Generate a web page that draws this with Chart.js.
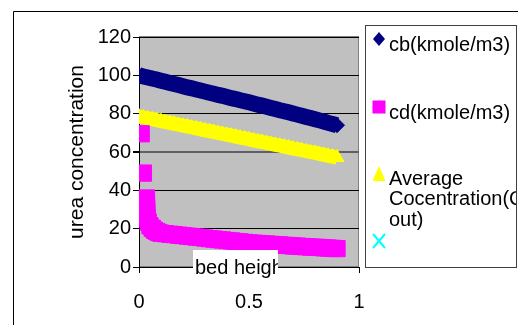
<!DOCTYPE html>
<html>
<head>
<meta charset="utf-8">
<script src="https://cdn.jsdelivr.net/npm/chart.js@4.4.0/dist/chart.umd.min.js"></script>
<style>
  body { margin: 0; background: #fff; }
  canvas { display: block; }
</style>
</head>
<body>
<canvas id="chart" width="518" height="325"></canvas>
<script>
// bed height values shared by cb and the average series
const bedHeight = [0, 0.02, 0.04, 0.06, 0.08, 0.1, 0.12, 0.14, 0.16, 0.18, 0.2,
  0.22, 0.24, 0.26, 0.28, 0.3, 0.32, 0.34, 0.36, 0.38, 0.4,
  0.42, 0.44, 0.46, 0.48, 0.5, 0.52, 0.54, 0.56, 0.58, 0.6,
  0.62, 0.64, 0.66, 0.68, 0.7, 0.72, 0.74, 0.76, 0.78, 0.8,
  0.82, 0.84, 0.86, 0.88, 0.9];

const cb = [100, 99.4, 98.9, 98.3, 97.8, 97.2, 96.6, 96.0, 95.5, 94.9, 94.3,
  93.7, 93.2, 92.6, 92.1, 91.5, 90.9, 90.4, 89.8, 89.3, 88.7,
  88.1, 87.6, 87.0, 86.5, 85.9, 85.3, 84.7, 84.2, 83.6, 83.0,
  82.4, 81.8, 81.3, 80.7, 80.1, 79.5, 78.9, 78.3, 77.7, 77.1,
  76.5, 75.9, 75.2, 74.6, 74.0];

const average = [78.5, 78.0, 77.5, 77.1, 76.6, 76.1, 75.6, 75.2, 74.7, 74.2, 73.7,
  73.3, 72.8, 72.3, 71.8, 71.3, 70.9, 70.4, 69.9, 69.4, 69.0,
  68.5, 68.0, 67.5, 67.1, 66.6, 66.1, 65.6, 65.2, 64.7, 64.2,
  63.7, 63.3, 62.8, 62.3, 61.8, 61.4, 60.9, 60.4, 59.9, 59.5,
  59.0, 58.5, 58.0, 57.6, 57.1];

// cd has its own x values (denser near the start)
const cdHeight = [0.01, 0.02, 0.034, 0.034, 0.035, 0.036, 0.038, 0.042, 0.05, 0.06, 0.07, 0.08, 0.09, 0.1,
  0.12, 0.14, 0.16, 0.18, 0.2, 0.22, 0.24, 0.26, 0.28, 0.3,
  0.32, 0.34, 0.36, 0.38, 0.4, 0.42, 0.44, 0.46, 0.48, 0.5,
  0.52, 0.54, 0.56, 0.58, 0.6, 0.62, 0.64, 0.66, 0.68, 0.7,
  0.72, 0.74, 0.76, 0.78, 0.8, 0.82, 0.84, 0.86, 0.88, 0.9];

const cd = [69.5, 49, 36, 33, 30.5, 28, 25.5, 23.5, 21.5, 20.2, 19.2, 18.5, 18.0, 17.6,
  17.4, 17.1, 16.9, 16.6, 16.4, 16.1, 15.9, 15.6, 15.4, 15.1,
  14.8, 14.6, 14.3, 14.1, 13.8, 13.6, 13.3, 13.1, 12.8, 12.6,
  12.4, 12.3, 12.1, 12.0, 11.8, 11.6, 11.5, 11.3, 11.2, 11.0,
  10.9, 10.7, 10.6, 10.4, 10.3, 10.2, 10.0, 9.9, 9.7, 9.6];

const yTicks = [0, 20, 40, 60, 80, 100, 120];
const xTicks = [0, 0.5, 1];

const legendNames = ['cb(kmole/m3)', 'cd(kmole/m3)', ['Average', 'Cocentration(C', 'out)'], ''];

const NAVY = '#000080';
const MAGENTA = '#ff00ff';
const YELLOW = '#ffff00';
const CYAN = '#00ffff';
const FONT = "'Liberation Sans', Arial, sans-serif";

function toPoints(xs, ys) {
  return xs.map((x, i) => ({ x: x, y: ys[i] }));
}

// grey plot area + outer frame
const backdrop = {
  id: 'backdrop',
  beforeDraw(chart) {
    const { ctx, chartArea: a } = chart;
    ctx.save();
    ctx.fillStyle = '#fff';
    ctx.fillRect(0, 0, chart.width, chart.height);
    ctx.strokeStyle = '#000';
    ctx.lineWidth = 1;
    ctx.beginPath();
    ctx.moveTo(13.5, 325);
    ctx.lineTo(13.5, 11.5);
    ctx.lineTo(518, 11.5);
    ctx.stroke();
    ctx.fillStyle = '#c0c0c0';
    ctx.fillRect(a.left, a.top, a.right - a.left, a.bottom - a.top);
    ctx.strokeStyle = '#808080';
    ctx.strokeRect(a.left + 0.5, a.top - 0.5, a.right - a.left - 1, a.bottom - a.top);
    ctx.restore();
  }
};

function marker(ctx, style, x, y, color) {
  ctx.fillStyle = color;
  ctx.strokeStyle = color;
  ctx.beginPath();
  if (style === 'rectRot') {
    ctx.moveTo(x, y - 7); ctx.lineTo(x + 6, y); ctx.lineTo(x, y + 7); ctx.lineTo(x - 6, y);
    ctx.closePath(); ctx.fill();
  } else if (style === 'rect') {
    ctx.fillRect(x - 6.5, y - 6.5, 13, 13);
  } else if (style === 'triangle') {
    ctx.moveTo(x, y - 8); ctx.lineTo(x + 6.5, y + 7); ctx.lineTo(x - 6.5, y + 7);
    ctx.closePath(); ctx.fill();
  } else {
    ctx.lineWidth = 2;
    ctx.moveTo(x - 6, y - 7); ctx.lineTo(x + 6, y + 7);
    ctx.moveTo(x + 6, y - 7); ctx.lineTo(x - 6, y + 7);
    ctx.stroke();
  }
}

// legend box and the "bed heigh" label
const overlay = {
  id: 'overlay',
  afterDraw(chart) {
    const ctx = chart.ctx;
    ctx.save();
    // x axis title box
    ctx.fillStyle = '#fff';
    ctx.fillRect(193, 250, 85, 29);
    ctx.beginPath();
    ctx.rect(193, 250, 85, 29);
    ctx.clip();
    ctx.fillStyle = '#000';
    ctx.font = '20px ' + FONT;
    ctx.textBaseline = 'alphabetic';
    ctx.fillText('bed height', 195, 274);
    ctx.restore();

    ctx.save();
    ctx.strokeStyle = '#404040';
    ctx.lineWidth = 1;
    ctx.strokeRect(365.5, 25.5, 151, 242);
    ctx.beginPath();
    ctx.rect(366, 26, 150, 241);
    ctx.clip();
    const markY = [39, 107, 174, 241];
    const textY = [[51], [119], [185, 205, 226], []];
    chart.data.datasets.forEach((ds, i) => {
      marker(ctx, ds.pointStyle, 379, markY[i], ds.backgroundColor);
      const lines = Array.isArray(legendNames[i]) ? legendNames[i] : [legendNames[i]];
      ctx.fillStyle = '#000';
      ctx.font = '20px ' + FONT;
      ctx.textBaseline = 'alphabetic';
      lines.forEach((t, j) => {
        if (textY[i][j] !== undefined) ctx.fillText(t, 389, textY[i][j]);
      });
    });
    ctx.restore();
  }
};

new Chart(document.getElementById('chart'), {
  type: 'scatter',
  data: {
    datasets: [
      {
        label: 'cb(kmole/m3)',
        data: toPoints(bedHeight, cb),
        pointStyle: 'rectRot',
        pointRadius: 7.5,
        showLine: true,
        borderWidth: 16,
        pointBorderWidth: 1,
        backgroundColor: NAVY,
        borderColor: NAVY
      },
      {
        label: 'cd(kmole/m3)',
        data: toPoints(cdHeight, cd),
        pointStyle: 'rect',
        pointRadius: 11.5,
        backgroundColor: MAGENTA,
        borderColor: MAGENTA,
        borderWidth: 1
      },
      {
        label: 'Average Cocentration(C out)',
        data: toPoints(bedHeight, average),
        pointStyle: 'triangle',
        pointRadius: 8,
        showLine: true,
        borderWidth: 14,
        pointBorderWidth: 1,
        backgroundColor: YELLOW,
        borderColor: YELLOW
      },
      {
        label: '',
        data: [],
        pointStyle: 'crossRot',
        pointRadius: 7,
        backgroundColor: CYAN,
        borderColor: CYAN,
        borderWidth: 2
      }
    ]
  },
  options: {
    responsive: false,
    animation: false,
    events: [],
    layout: { padding: { left: 0, top: 37, right: 159, bottom: 0 } },
    plugins: {
      legend: { display: false },
      tooltip: { enabled: false }
    },
    scales: {
      x: {
        type: 'linear',
        min: 0,
        max: 1,
        afterFit(scale) { scale.height = 58; },
        afterBuildTicks(scale) { scale.ticks = xTicks.map(v => ({ value: v })); },
        ticks: {
          color: '#000',
          padding: 17,
          font: { family: FONT, size: 20 },
          callback: v => String(v)
        },
        grid: { display: true, drawOnChartArea: false, tickLength: 6, color: '#000' },
        border: { color: '#000', width: 1 }
      },
      y: {
        min: 0,
        max: 120,
        afterFit(scale) { scale.width = 139; },
        afterBuildTicks(scale) { scale.ticks = yTicks.map(v => ({ value: v })); },
        ticks: {
          color: '#000',
          padding: 2,
          font: { family: FONT, size: 20 }
        },
        grid: {
          color: c => (c.tick && c.tick.value === 60 ? '#606060' : '#000'),
          lineWidth: c => (c.tick && c.tick.value === 60 ? 2 : 1),
          tickColor: '#000',
          tickLength: 6
        },
        border: { color: '#000', width: 1 },
        title: {
          display: true,
          text: 'urea concentration',
          color: '#000',
          font: { family: FONT, size: 21 },
          padding: { top: 65, bottom: 0 }
        }
      }
    }
  },
  plugins: [backdrop, overlay]
});
</script>
</body>
</html>
